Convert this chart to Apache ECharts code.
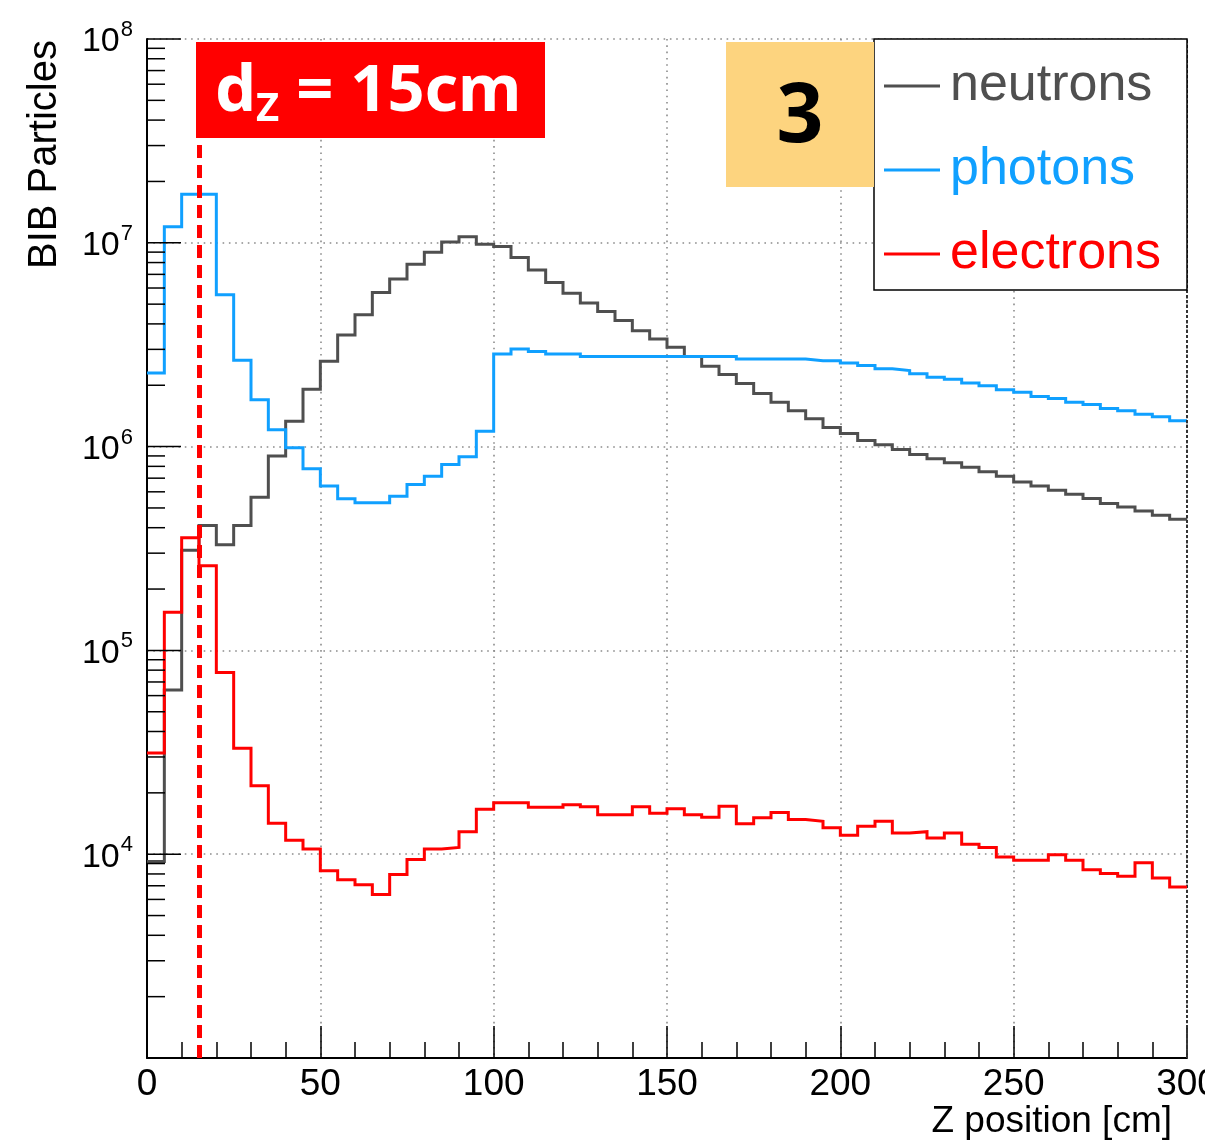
<!DOCTYPE html>
<html>
<head>
<meta charset="utf-8">
<script src="https://cdn.jsdelivr.net/npm/echarts@6/dist/echarts.min.js"></script>
<style>
  html, body { margin: 0; padding: 0; background: #ffffff; }
  #chart { width: 1205px; height: 1142px; }
</style>
</head>
<body>
<div id="chart"></div>
<script>
// Histogram bin edges along Z [cm] (5 cm bins)
const binEdges = [
  0, 5, 10, 15, 20, 25, 30, 35, 40, 45, 50, 55, 60, 65, 70, 75, 80, 85, 90, 95,
  100, 105, 110, 115, 120, 125, 130, 135, 140, 145, 150, 155, 160, 165, 170, 175, 180, 185, 190, 195,
  200, 205, 210, 215, 220, 225, 230, 235, 240, 245, 250, 255, 260, 265, 270, 275, 280, 285, 290, 295,
  300
];

// Bin contents (BIB particles per bin)
const neutrons = [
  9.2e3, 6.4e4, 3.1e5, 4.1e5, 3.3e5, 4.1e5, 5.65e5, 9.0e5, 1.33e6, 1.91e6,
  2.62e6, 3.53e6, 4.44e6, 5.70e6, 6.65e6, 7.85e6, 9.0e6, 1.01e7, 1.07e7, 9.84e6,
  9.58e6, 8.47e6, 7.36e6, 6.38e6, 5.66e6, 5.06e6, 4.60e6, 4.16e6, 3.70e6, 3.37e6,
  3.07e6, 2.77e6, 2.48e6, 2.26e6, 2.04e6, 1.82e6, 1.65e6, 1.50e6, 1.37e6, 1.24e6,
  1.16e6, 1.07e6, 1.02e6, 9.68e5, 9.14e5, 8.71e5, 8.33e5, 7.93e5, 7.53e5, 7.16e5,
  6.70e5, 6.40e5, 6.10e5, 5.83e5, 5.57e5, 5.26e5, 5.05e5, 4.83e5, 4.60e5, 4.40e5
];
const photons = [
  2.30e6, 1.20e7, 1.73e7, 1.73e7, 5.56e6, 2.65e6, 1.70e6, 1.21e6, 9.86e5, 7.78e5,
  6.40e5, 5.55e5, 5.31e5, 5.31e5, 5.71e5, 6.52e5, 7.16e5, 8.17e5, 8.91e5, 1.19e6,
  2.85e6, 3.01e6, 2.93e6, 2.85e6, 2.85e6, 2.77e6, 2.77e6, 2.77e6, 2.77e6, 2.77e6,
  2.77e6, 2.77e6, 2.77e6, 2.77e6, 2.69e6, 2.69e6, 2.69e6, 2.69e6, 2.64e6, 2.64e6,
  2.57e6, 2.50e6, 2.41e6, 2.36e6, 2.28e6, 2.19e6, 2.14e6, 2.05e6, 1.99e6, 1.90e6,
  1.85e6, 1.76e6, 1.72e6, 1.65e6, 1.61e6, 1.54e6, 1.50e6, 1.44e6, 1.40e6, 1.34e6
];
const electrons = [
  3.14e4, 1.54e5, 3.57e5, 2.60e5, 7.80e4, 3.31e4, 2.17e4, 1.42e4, 1.17e4, 1.06e4,
  8.3e3, 7.50e3, 7.09e3, 6.34e3, 7.94e3, 9.43e3, 1.06e4, 1.08e4, 1.29e4, 1.66e4,
  1.79e4, 1.79e4, 1.70e4, 1.70e4, 1.75e4, 1.71e4, 1.56e4, 1.56e4, 1.71e4, 1.59e4,
  1.67e4, 1.56e4, 1.52e4, 1.72e4, 1.41e4, 1.51e4, 1.60e4, 1.48e4, 1.45e4, 1.35e4,
  1.24e4, 1.37e4, 1.45e4, 1.27e4, 1.29e4, 1.20e4, 1.27e4, 1.12e4, 1.08e4, 9.68e3,
  9.33e3, 9.33e3, 9.94e3, 9.33e3, 8.40e3, 8.03e3, 7.79e3, 9.08e3, 7.64e3, 6.90e3
];

const seriesNames = ['neutrons', 'photons', 'electrons'];
const seriesColors = ['#4f4f4f', '#10a0ff', '#ff0000'];

// Axis ranges and tick labels
const xRange = [0, 300];
const xTickStep = 50;
const yRange = [1e3, 1e8];
const yLabelExponents = [4, 5, 6, 7, 8];
const yMinorMultipliers = [2, 3, 4, 5, 6, 7, 8, 9];

// Annotations
const dzCut = 15;            // vertical cut position [cm]
const cutLabel = ['d', 'Z', ' = 15cm'];
const panelNumber = '3';

const FONT = '"Liberation Sans", Arial, Helvetica, sans-serif';

// histogram -> step line points (left edges + closing right edge)
function toSteps(values) {
  const pts = values.map((v, i) => [binEdges[i], v]);
  pts.push([binEdges[binEdges.length - 1], values[values.length - 1]]);
  return pts;
}

// log-axis ticks: decades (major) and 2..9 multiples (minor)
const yTickData = [];
for (let e = Math.log10(yRange[0]); e <= Math.log10(yRange[1]); e++) {
  const dec = Math.pow(10, e);
  yTickData.push([0, dec, 1]);
  if (dec < yRange[1]) {
    yMinorMultipliers.forEach(m => yTickData.push([0, m * dec, 0]));
  }
}

const chart = echarts.init(document.getElementById('chart'), null, { renderer: 'canvas' });

const gridDots = { color: '#8c8c8c', width: 1.6, type: [1.6, 4.7] };

const option = {
  animation: false,
  backgroundColor: '#ffffff',
  grid: { left: 147, right: 18, top: 39, bottom: 84, containLabel: false, outerBoundsMode: 'none' },
  xAxis: {
    type: 'value',
    min: xRange[0],
    max: xRange[1],
    interval: xTickStep,
    axisLine: { show: true, lineStyle: { color: '#000', width: 2 } },
    axisTick: { show: true, inside: true, length: 32, lineStyle: { color: '#000', width: 1.5 } },
    minorTick: { show: true, splitNumber: 5, length: 16, lineStyle: { color: '#000', width: 1.5 } },
    axisLabel: { fontFamily: FONT, fontSize: 37, color: '#000', margin: 8 },
    splitLine: { show: true, lineStyle: gridDots },
    minorSplitLine: { show: false }
  },
  yAxis: {
    type: 'log',
    logBase: 10,
    min: yRange[0],
    max: yRange[1],
    axisLine: { show: true, lineStyle: { color: '#000', width: 2 } },
    axisTick: { show: false },
    minorTick: { show: false },
    splitLine: { show: true, lineStyle: gridDots },
    axisLabel: {
      margin: 14,
      formatter: v => {
        const e = Math.round(Math.log10(v));
        return yLabelExponents.indexOf(e) >= 0 ? '{b|10}{s|' + e + '}' : '';
      },
      rich: {
        b: { fontFamily: FONT, fontSize: 34, color: '#000', lineHeight: 40, verticalAlign: 'bottom' },
        s: { fontFamily: FONT, fontSize: 22, color: '#000', lineHeight: 40, verticalAlign: 'top', padding: [0, 0, 0, 1] }
      }
    }
  },
  legend: {
    orient: 'vertical',
    left: 879,
    top: 52,
    itemWidth: 56,
    itemHeight: 3,
    itemGap: 26,
    icon: 'rect',
    z: 20,
    selectedMode: false,
    textStyle: { fontFamily: FONT, fontSize: 52, lineHeight: 58, padding: [0, 0, 0, 5] },
    data: seriesNames.map((n, i) => ({ name: n, textStyle: { color: seriesColors[i] } }))
  },
  series: [
    {
      name: seriesNames[0], type: 'line', step: 'end', showSymbol: false, symbol: 'none',
      data: toSteps(neutrons), color: seriesColors[0],
      lineStyle: { width: 3, color: seriesColors[0], join: 'miter' }, z: 3
    },
    {
      name: seriesNames[1], type: 'line', step: 'end', showSymbol: false, symbol: 'none',
      data: toSteps(photons), color: seriesColors[1],
      lineStyle: { width: 3, color: seriesColors[1], join: 'miter' }, z: 4
    },
    {
      name: seriesNames[2], type: 'line', step: 'end', showSymbol: false, symbol: 'none',
      data: toSteps(electrons), color: seriesColors[2],
      lineStyle: { width: 3, color: seriesColors[2], join: 'miter' }, z: 5,
      markLine: {
        silent: true,
        symbol: 'none',
        label: { show: false },
        lineStyle: { color: '#ff0000', width: 5, type: [13, 7] },
        data: [[{ coord: [dzCut, yRange[0]] }, { coord: [dzCut, yRange[1]] }]]
      }
    },
    {
      // y-axis ticks on the log scale (decades long, 2..9 short)
      type: 'custom',
      silent: true,
      clip: false,
      z: 6,
      data: yTickData,
      renderItem: (params, api) => {
        const p = api.coord([xRange[0], api.value(1)]);
        const len = api.value(2) ? 34 : 18;
        return {
          type: 'line',
          shape: { x1: p[0], y1: p[1], x2: p[0] + len, y2: p[1] },
          style: { stroke: '#000', lineWidth: 1.5 }
        };
      }
    },
    {
      // right frame edge
      type: 'line', data: [], silent: true,
      markLine: {
        silent: true, symbol: 'none', label: { show: false },
        lineStyle: { color: '#333', width: 2, type: [3, 2] },
        data: [{ xAxis: xRange[1] }]
      }
    }
  ],
  graphic: [
    {
      type: 'rect', z: 10,
      shape: { x: 874, y: 39, width: 313, height: 251 },
      style: { fill: '#ffffff', stroke: '#000', lineWidth: 1.5 }
    },
    {
      type: 'rect', z: 10,
      shape: { x: 726, y: 42, width: 148, height: 145 },
      style: { fill: '#fdd47f' }
    },
    {
      type: 'text', z: 11, x: 800, y: 119,
      style: {
        text: panelNumber, fill: '#000', fontFamily: '"Noto Sans", sans-serif',
        fontWeight: 'bold', fontSize: 82, align: 'center', verticalAlign: 'middle'
      }
    },
    {
      type: 'rect', z: 10,
      shape: { x: 196, y: 42, width: 349, height: 96 },
      style: { fill: '#ff0000' }
    },
    {
      type: 'text', z: 11, x: 215, y: 92,
      style: {
        text: '{m|' + cutLabel[0] + '}{sub|' + cutLabel[1] + '}{m|' + cutLabel[2] + '}',
        align: 'left', verticalAlign: 'middle',
        rich: {
          m: { fill: '#fff', fontFamily: '"Noto Sans", sans-serif', fontWeight: 'bold', fontSize: 65, lineHeight: 76 },
          sub: { fill: '#fff', fontFamily: '"Noto Sans", sans-serif', fontWeight: 'bold', fontSize: 40, lineHeight: 76, verticalAlign: 'bottom' }
        }
      }
    },
    {
      type: 'text', z: 11, x: 45, y: 40, rotation: Math.PI / 2,
      style: {
        text: 'BIB Particles', fill: '#000', fontFamily: FONT, fontSize: 40,
        align: 'right', verticalAlign: 'middle'
      }
    },
    {
      type: 'text', z: 11, x: 1172, y: 1122,
      style: {
        text: 'Z position [cm]', fill: '#000', fontFamily: FONT, fontSize: 37,
        align: 'right', verticalAlign: 'middle'
      }
    }
  ]
};

chart.setOption(option);
</script>
</body>
</html>
